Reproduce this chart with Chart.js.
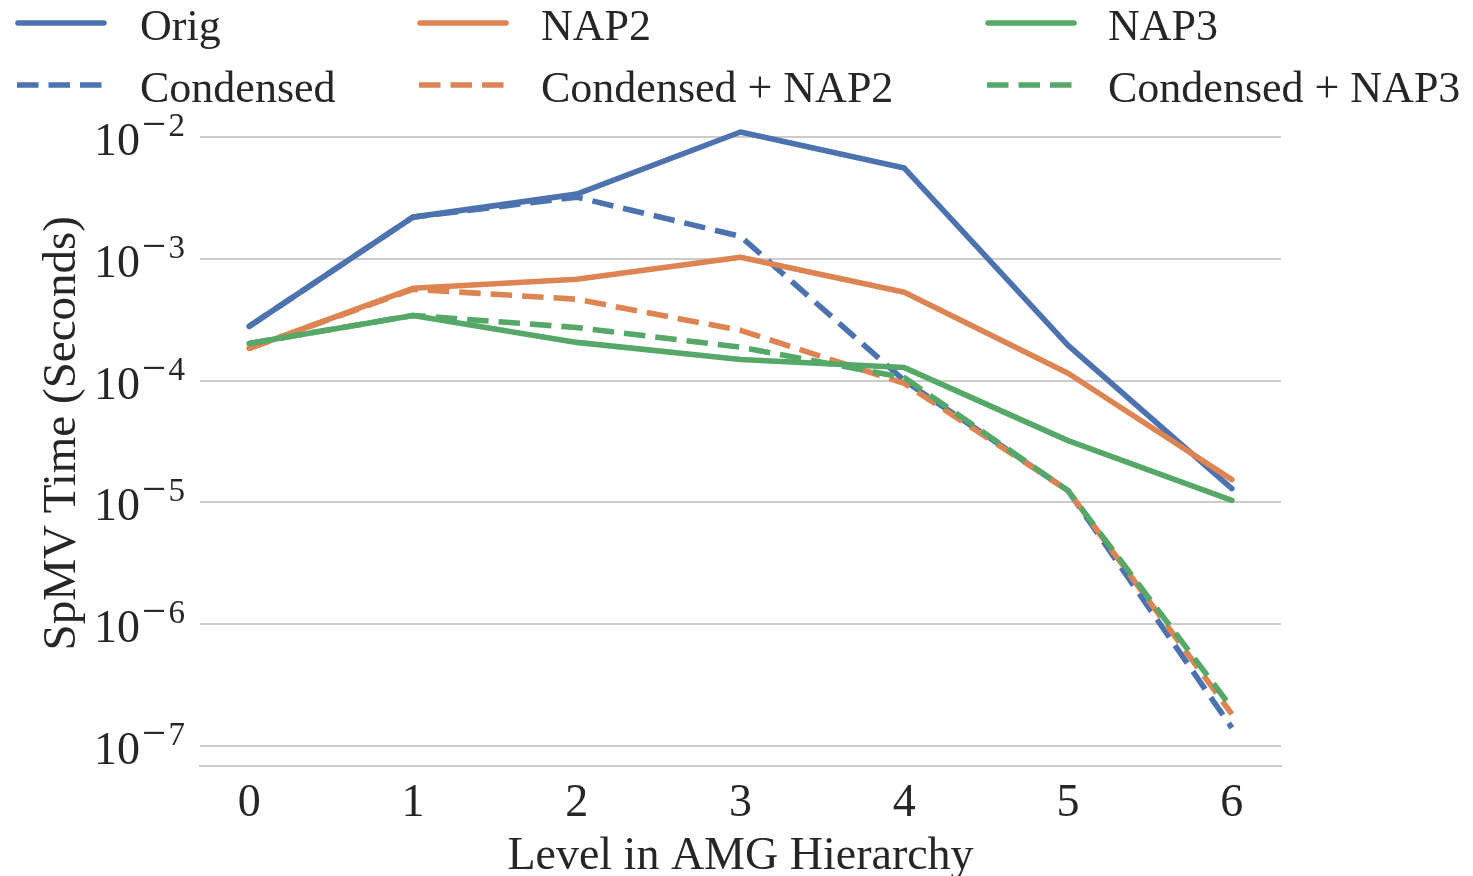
<!DOCTYPE html>
<html>
<head>
<meta charset="utf-8">
<title>SpMV time per AMG level</title>
<script src="https://cdn.jsdelivr.net/npm/chart.js@4/dist/chart.umd.min.js"></script>
<style>
  html, body { margin: 0; padding: 0; background: #fff; }
  #wrap { width: 1473px; height: 876px; position: relative; }
</style>
</head>
<body>
<div id="wrap"><canvas id="spmv"></canvas></div>
<script>
// ── Data ──────────────────────────────────────────────
const LEVELS = [0, 1, 2, 3, 4, 5, 6];

const ORIG           = [2.79e-4, 2.20e-3, 3.40e-3, 1.10e-2, 5.56e-3, 1.95e-4, 1.30e-5];
const CONDENSED      = [2.79e-4, 2.20e-3, 3.21e-3, 1.53e-3, 1.00e-4, 1.25e-5, 1.41e-7];
const NAP2           = [1.84e-4, 5.73e-4, 6.79e-4, 1.03e-3, 5.31e-4, 1.15e-4, 1.54e-5];
const CONDENSED_NAP2 = [1.84e-4, 5.62e-4, 4.66e-4, 2.59e-4, 9.50e-5, 1.25e-5, 1.83e-7];
const NAP3           = [2.02e-4, 3.43e-4, 2.06e-4, 1.49e-4, 1.28e-4, 3.22e-5, 1.04e-5];
const CONDENSED_NAP3 = [2.02e-4, 3.43e-4, 2.73e-4, 1.88e-4, 1.06e-4, 1.25e-5, 2.05e-7];

const SERIES_NAMES = ['Orig', 'Condensed', 'NAP2', 'Condensed + NAP2', 'NAP3', 'Condensed + NAP3'];
const SERIES_DATA  = [ORIG, CONDENSED, NAP2, CONDENSED_NAP2, NAP3, CONDENSED_NAP3];

const Y_EXPONENTS = [-7, -6, -5, -4, -3, -2];   // decade tick labels 10^e
const X_TITLE = 'Level in AMG Hierarchy';
const Y_TITLE = 'SpMV Time (Seconds)';

// ── Style ─────────────────────────────────────────────
const SERIF = "'Liberation Serif', 'DejaVu Serif', serif";
const TEXT  = '#262626';
const GRID  = '#cccccc';
const PALETTE = ['#4c72b0', '#dd8452', '#55a868'];
const LW = 5.6;
const DASH = [21.5, 10];

const datasets = SERIES_NAMES.map((name, i) => {
  const dashed = i % 2 === 1;
  return {
    label: name,
    data: LEVELS.map((x, k) => ({ x, y: SERIES_DATA[i][k] })),
    borderColor: PALETTE[Math.floor(i / 2)],
    borderWidth: LW,
    borderDash: dashed ? DASH : [],
    borderCapStyle: dashed ? 'butt' : 'round',
    borderJoinStyle: 'round',
    pointRadius: 0,
    tension: 0,
    fill: false,
    order: SERIES_NAMES.length - i,   // later series on top
  };
});

// ── Plugins ───────────────────────────────────────────
// 10^e labels on the log axis (raised exponent) + x axis title
const axisText = {
  id: 'axisText',
  afterDraw(chart) {
    const y = chart.scales.y, ctx = chart.ctx, area = chart.chartArea;
    const right = area.left - 15;
    ctx.save();
    ctx.fillStyle = TEXT;
    ctx.textBaseline = 'alphabetic';
    Y_EXPONENTS.forEach(e => {
      const py = y.getPixelForValue(Math.pow(10, e));
      ctx.font = `46px ${SERIF}`;
      ctx.textAlign = 'right';
      ctx.fillText('10', right - 45, py + 18);
      ctx.font = `33px ${SERIF}`;
      ctx.fillText(String(Math.abs(e)), right, py - 1);
      // wide minus sign of the exponent
      ctx.font = `43px ${SERIF}`;
      ctx.textAlign = 'left';
      ctx.fillText('\u2212', right - 43, py + 1);
    });
    ctx.font = `46px ${SERIF}`;
    ctx.textAlign = 'center';
    ctx.fillText(X_TITLE, (area.left + area.right) / 2, area.bottom + 103);
    ctx.restore();
  }
};

// three-column legend above the plot, filled column by column
const topLegend = {
  id: 'topLegend',
  afterDraw(chart) {
    const ctx = chart.ctx;
    const colX  = [15, 417, 985];
    const textX = [140, 541, 1108];
    const rowY  = [23, 85];
    ctx.save();
    chart.data.datasets.forEach((ds, i) => {
      const c = Math.floor(i / 2), r = i % 2;
      const x0 = colX[c], y0 = rowY[r];
      ctx.strokeStyle = ds.borderColor;
      ctx.lineWidth = ds.borderWidth;
      ctx.setLineDash(ds.borderDash);
      ctx.lineCap = ds.borderCapStyle;
      ctx.beginPath();
      if (r === 0) { ctx.moveTo(x0 + 3, y0); ctx.lineTo(x0 + 89, y0); }
      else { ctx.moveTo(x0 + 2, y0); ctx.lineTo(x0 + 88, y0); }
      ctx.stroke();
      ctx.setLineDash([]);
      ctx.fillStyle = TEXT;
      ctx.font = `44px ${SERIF}`;
      ctx.textAlign = 'left';
      ctx.textBaseline = 'middle';
      ctx.fillText(ds.label, textX[c], y0 + 5);
    });
    ctx.restore();
  }
};

// ── Chart ─────────────────────────────────────────────
new Chart(document.getElementById('spmv'), {
  type: 'line',
  data: { datasets },
  plugins: [axisText, topLegend],
  options: {
    responsive: true,
    maintainAspectRatio: false,
    animation: false,
    layout: { padding: { left: 0, right: 192, top: 100.5, bottom: 34 } },
    plugins: { legend: { display: false }, tooltip: { enabled: false } },
    scales: {
      x: {
        type: 'linear',
        min: -0.3,
        max: 6.3,
        afterBuildTicks: s => { s.ticks = LEVELS.map(v => ({ value: v })); },
        grid: { display: false, drawTicks: false },
        border: { display: true, color: GRID, width: 2 },
        ticks: {
          color: TEXT,
          padding: 15,
          font: { family: SERIF, size: 46, lineHeight: 1 },
          callback: v => String(v),
        },
      },
      y: {
        type: 'logarithmic',
        min: Math.pow(10, -7.164),
        max: Math.pow(10, -1.7),
        afterBuildTicks: s => { s.ticks = Y_EXPONENTS.map(e => ({ value: Math.pow(10, e), major: true })); },
        grid: { color: GRID, lineWidth: 2, drawTicks: false },
        border: { display: false },
        ticks: { display: false },
        title: {
          display: true,
          text: Y_TITLE,
          color: TEXT,
          font: { family: SERIF, size: 47, lineHeight: 1 },
          padding: { top: 39, bottom: 114 },
        },
      },
    },
  },
});
</script>
</body>
</html>
